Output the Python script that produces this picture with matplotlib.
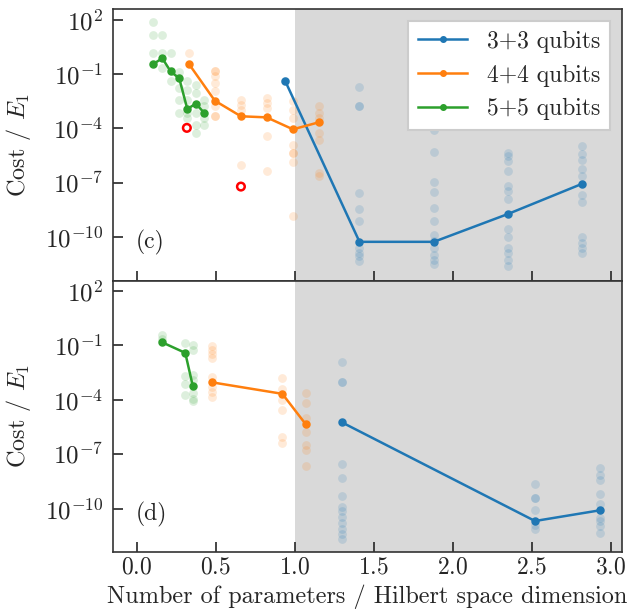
import numpy as np
import matplotlib
matplotlib.use('Agg')
import matplotlib.pyplot as plt

plt.rcParams['font.family'] = 'cmr10'
plt.rcParams['mathtext.fontset'] = 'cm'
plt.rcParams['axes.formatter.use_mathtext'] = True
plt.rcParams['font.size'] = 17
plt.rcParams['text.color'] = '#262626'
plt.rcParams['axes.labelcolor'] = '#262626'
plt.rcParams['xtick.color'] = '#262626'
plt.rcParams['ytick.color'] = '#262626'

series_names = ["3+3 qubits", "4+4 qubits", "5+5 qubits"]
colors = ['#1f77b4', '#ff7f0e', '#2ca02c']

# values are log10(cost / E1)

# ---- panel (c) ----
blue_x_c = [0.94, 1.41, 1.88, 2.35, 2.82]
blue_line_c = [-1.38, -10.26, -10.26, -8.72, -7.05]
blue_cloud_c = [
    [-1.38, -1.38],
    [-1.73, -2.74, -2.74, -7.56, -8.44, -9.09, -10.26, -10.59, -10.87, -11.05, -11.33],
    [-2.2, -3.1, -4.07, -5.30, -6.97, -7.53, -8.39, -9.09, -9.86, -10.23, -10.59, -10.96, -11.24, -11.51],
    [-5.35, -5.54, -5.81, -6.37, -7.19, -7.47, -7.89, -8.72, -9.55, -9.99, -10.59, -10.87, -11.24, -11.61],
    [-4.95, -5.39, -5.76, -6.24, -6.60, -7.05, -7.65, -8.06, -9.99, -10.32, -10.59, -10.87],
]

orange_x_c = [0.331, 0.495, 0.66, 0.823, 0.989, 1.154]
orange_line_c = [-0.44, -2.47, -3.33, -3.39, -4.05, -3.66]
orange_cloud_c = [
    [0.16, -0.44],
    [-0.85, -0.85, -1.13, -1.49, -1.95, -2.47, -2.78, -3.30, -3.30],
    [-2.41, -2.69, -2.96, -3.33, -6.0],
    [-2.32, -2.60, -2.87, -3.39, -4.44, -6.37],
    [-2.5, -2.96, -3.42, -4.05, -4.89, -5.35, -5.35, -5.87, -8.85],
    [-2.78, -3.15, -3.42, -3.66, -4.25, -4.62, -6.46, -6.64],
]

green_x_c = [0.106, 0.163, 0.215, 0.270, 0.321, 0.375, 0.428]
green_line_c = [-0.44, -0.13, -0.85, -1.24, -2.93, -2.63, -3.15]
green_cloud_c = [
    [1.87, 1.13, 0.16, -0.44],
    [1.13, 0.16, -0.65],
    [0.16, -0.85, -1.40],
    [-0.91, -1.24, -1.77, -2.41, -3.15],
    [-1.36, -1.86, -2.41, -2.93, -3.15, -3.42],
    [-1.59, -2.04, -2.63, -3.15, -3.79, -4.25],
    [-2.41, -2.78, -3.15, -3.42, -3.79],
]

red_x_c = [0.318, 0.66]
red_y_c = [-3.97, -7.21]

# ---- panel (d) ----
blue_x_d = [1.30, 2.52, 2.93]
blue_line_d = [-5.25, -10.69, -10.10]
blue_cloud_d = [
    [-1.91, -2.99, -2.99, -5.25, -7.52, -8.31, -9.33, -9.92, -10.15, -10.47, -10.80, -11.13, -11.43, -11.66],
    [-8.66, -9.40, -9.40, -10.06, -10.69, -10.93, -11.11],
    [-7.74, -8.17, -8.44, -9.22, -9.77, -10.10, -10.50, -10.69, -10.98, -11.33],
]

orange_x_d = [0.48, 0.922, 1.07]
orange_line_d = [-3.04, -3.67, -5.35]
orange_cloud_d = [
    [-1.02, -1.26, -1.48, -1.72, -2.73, -3.04, -3.32, -3.56, -3.84],
    [-2.79, -3.38, -3.67, -4.02, -4.57, -6.05, -6.41],
    [-3.65, -4.17, -4.98, -5.35, -5.77, -6.51, -6.78, -7.67],
]

green_x_d = [0.16, 0.308, 0.356]
green_line_d = [-0.82, -1.41, -3.25]
green_cloud_d = [
    [-0.43, -0.67, -0.82],
    [-0.89, -1.41, -2.70, -3.15, -3.76],
    [-0.98, -1.26, -2.64, -2.92, -3.25, -3.65, -3.93, -4.06],
]

panel_c = [(blue_x_c, blue_line_c, blue_cloud_c),
           (orange_x_c, orange_line_c, orange_cloud_c),
           (green_x_c, green_line_c, green_cloud_c)]
panel_d = [(blue_x_d, blue_line_d, blue_cloud_d),
           (orange_x_d, orange_line_d, orange_cloud_d),
           (green_x_d, green_line_d, green_cloud_d)]


def draw_panel(ax, series, tag):
    # shaded region: more parameters than Hilbert space dimension
    ax.axvspan(1.0, 3.5, color='#d9d9d9', zorder=0, lw=0)
    for (xs, line, cloud), name, col in zip(series, series_names, colors):
        cx, cy = [], []
        for x, ys in zip(xs, cloud):
            cx += [x] * len(ys)
            cy += ys
        ax.scatter(cx, np.power(10.0, cy), s=40, color=col, alpha=0.16,
                   lw=0, zorder=1)
        ax.plot(xs, np.power(10.0, line), '-o', color=col, lw=1.8,
                ms=5, label=name, zorder=3)
    ax.set_yscale('log')
    ax.set_ylim(10 ** -12.4, 10 ** 2.58)
    ax.set_xlim(-0.15, 3.07)
    ax.set_yticks([1e2, 1e-1, 1e-4, 1e-7, 1e-10])
    ax.yaxis.set_minor_locator(matplotlib.ticker.NullLocator())
    ax.set_xticks([0.0, 0.5, 1.0, 1.5, 2.0, 2.5, 3.0])
    ax.tick_params(direction='in', length=7, width=1.2, top=False, right=False,
                   labelsize=17)
    ax.tick_params(axis='y', labelsize=18, pad=7)
    for sp in ax.spines.values():
        sp.set_color('#333333')
        sp.set_linewidth(1.2)
    ax.set_ylabel('Cost / $E_1$', fontsize=17.5)
    ax.yaxis.set_label_coords(-0.157, 0.5)
    ax.text(0.045, 0.14, tag, transform=ax.transAxes, fontsize=17, va='center')


fig, (ax1, ax2) = plt.subplots(2, 1, figsize=(6.34, 6.14), dpi=100, sharex=True)
fig.subplots_adjust(left=0.178, right=0.981, top=0.985, bottom=0.101, hspace=0)

draw_panel(ax1, panel_c, '(c)')
ax1.scatter(red_x_c, np.power(10.0, red_y_c), s=30, facecolors='none',
            edgecolors='red', linewidths=1.8, zorder=4)
ax1.tick_params(labelbottom=False)
leg = ax1.legend(loc='upper right', fontsize=17, fancybox=False, framealpha=1,
                 edgecolor='#cccccc', handlelength=2.1, handletextpad=0.85,
                 labelspacing=0.5, borderaxespad=0.5, markerscale=0.8)
leg.get_frame().set_linewidth(1.5)

draw_panel(ax2, panel_d, '(d)')
ax2.set_xlabel('Number of parameters / Hilbert space dimension', fontsize=17.5)

plt.savefig('out.png', dpi=100)
